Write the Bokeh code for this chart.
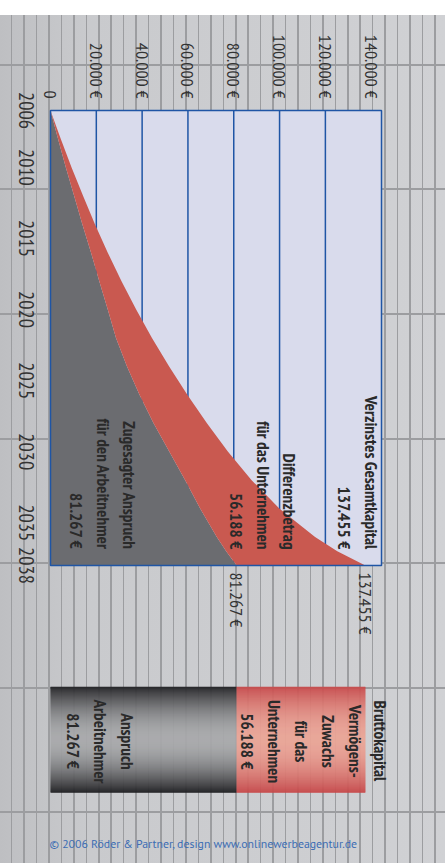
import math
import subprocess
from bokeh.plotting import figure
from bokeh.models import Range1d, FixedTicker, ColumnDataSource, BoxAnnotation, LinearAxis
from bokeh.layouts import column
from bokeh.core.properties import value
from bokeh.embed import file_html
from bokeh.resources import INLINE

# ---------------- data ----------------
years = [2006, 2008, 2010, 2012, 2014, 2016, 2018, 2020, 2022, 2024,
         2026, 2028, 2030, 2032, 2034, 2036, 2037, 2038]
total_capital = [0, 4500, 9200, 14200, 19400, 25000, 31000, 37400, 44300, 51800,
                 59800, 68300, 77500, 87800, 100000, 115500, 125200, 137455]
employee_claim = [0, 3300, 6700, 10300, 13900, 17700, 21300, 25000, 28600, 33400,
                  38900, 45000, 51900, 58800, 65400, 72600, 76700, 81267]
value_ticks = [0, 20000, 40000, 60000, 80000, 100000, 120000, 140000]
year_ticks = [2006, 2010, 2015, 2020, 2025, 2030, 2035, 2038]


def eur(v):
    return f"{v:,}".replace(",", ".") + " €"


total_end = total_capital[-1]
employee_end = employee_claim[-1]
company_gain = total_end - employee_end

# ---------------- fonts ----------------
def families():
    try:
        out = subprocess.run(["fc-list", ":", "family"], capture_output=True,
                             text=True, timeout=30).stdout
    except Exception:
        return set()
    fams = set()
    for line in out.splitlines():
        for f in line.split(","):
            fams.add(f.strip())
    return fams


FAMS = families()
PRESETS = [
    ("PT Sans Narrow", dict(year="20.5px", tick="18px", bold="17.2px")),
    ("Fira Sans Condensed", dict(year="18px", tick="16px", bold="15px")),
    ("Roboto Condensed", dict(year="18.5px", tick="16.5px", bold="15px")),
    ("Liberation Sans Narrow", dict(year="20px", tick="18px", bold="15px")),
    ("DejaVu Sans Condensed", dict(year="16px", tick="14px", bold="12px")),
]
NARROW, SIZES = "DejaVu Sans", dict(year="15px", tick="13px", bold="11.5px")
for fam, sz in PRESETS:
    if fam in FAMS:
        NARROW, SIZES = fam, sz
        break
COPY_FONT = "PT Sans" if "PT Sans" in FAMS else "Open Sans"

# ---------------- geometry helpers ----------------
BLUE = "#1f55a5"
TXT = "#2a2a2a"
PLOT_MAX = 144500          # value at the right edge of the plot area
PLOT_PX = 331              # plot area width in pixels
Y0, Y1 = years[0], years[-1]
PLOT_TOP, PLOT_BOTTOM = 110, 565   # page pixel rows of the plot area
FRAME_TOP, FRAME_BOTTOM = 90, 590  # page pixel rows of the drawing frame


def at_px(px):
    """value drawn px pixels from the left page edge (plot area starts at 50)"""
    return (px - 50) * PLOT_MAX / PLOT_PX


def year_at_px(py):
    return Y0 + (py - PLOT_TOP) * (Y1 - Y0) / (PLOT_BOTTOM - PLOT_TOP)


x_range = Range1d(at_px(0), at_px(445))
y_range = Range1d(year_at_px(FRAME_BOTTOM), year_at_px(FRAME_TOP))

p = figure(width=445, height=650, x_range=x_range, y_range=y_range,
           x_axis_location="above", y_axis_location=None,
           output_backend="svg", toolbar_location=None,
           min_border_left=0, min_border_right=0,
           min_border_top=FRAME_TOP, min_border_bottom=650 - FRAME_BOTTOM,
           background_fill_color=None, border_fill_color=None, outline_line_color=None)
p.grid.visible = False

# plot area background
p.add_layout(BoxAnnotation(left=0, right=PLOT_MAX, top=Y0, bottom=Y1,
                           fill_color="#d9dbec", fill_alpha=1, line_color=None, level="underlay"))


def style_axis(ax, size, standoff):
    ax.axis_line_color = None
    ax.major_tick_line_color = None
    ax.minor_tick_line_color = None
    ax.major_tick_out = 0
    ax.major_tick_in = 0
    ax.major_label_standoff = standoff
    ax.major_label_orientation = -math.pi / 2
    ax.major_label_text_font = NARROW
    ax.major_label_text_font_size = size
    ax.major_label_text_color = "#333333"


xa = p.xaxis[0]
xa.ticker = FixedTicker(ticks=value_ticks)
xa.major_label_overrides = {t: ("0" if t == 0 else eur(t)) for t in value_ticks}
style_axis(xa, SIZES["tick"], -(PLOT_TOP - FRAME_TOP) + 12)

ba = LinearAxis(ticker=FixedTicker(ticks=[employee_end, total_end]),
                major_label_overrides={employee_end: eur(employee_end), total_end: eur(total_end)})
style_axis(ba, SIZES["tick"], -(FRAME_BOTTOM - PLOT_BOTTOM) + 7)
p.add_layout(ba, "below")

# vertical grid lines inside the plot area
grid_ticks = value_ticks[1:-1]
p.segment(x0=grid_ticks, x1=grid_ticks, y0=[Y0] * len(grid_ticks), y1=[Y1] * len(grid_ticks),
          line_color=BLUE, line_width=1.5)

src = ColumnDataSource(dict(year=years, zero=[0] * len(years),
                            employee=employee_claim, total=total_capital))
p.harea(y="year", x1="zero", x2="employee", source=src, fill_color="#6b6c70")
p.harea(y="year", x1="employee", x2="total", source=src, fill_color="#c95950")

# plot area outline on top of areas
p.add_layout(BoxAnnotation(left=0, right=PLOT_MAX, top=Y0, bottom=Y1,
                           fill_color=None, line_color=BLUE, line_width=1.5, line_alpha=1,
                           level="annotation"))

# year labels (read top-to-bottom, left of plot)
p.text(x=[at_px(25.5)] * len(year_ticks), y=year_ticks, text=[str(y) for y in year_ticks],
       angle=-math.pi / 2, text_align="center", text_baseline="middle",
       text_font=value(NARROW), text_font_size=SIZES["year"], text_color="#333333")

# in-plot labels
label_year = year_at_px(549)
p.text(x=[at_px(357.5), at_px(262.5), at_px(102.5)], y=[label_year] * 3,
       text=["Verzinstes Gesamtkapital\n" + eur(total_end),
             "Differenzbetrag\nfür das Unternehmen\n" + eur(company_gain),
             "Zugesagter Anspruch\nfür den Arbeitnehmer\n" + eur(employee_end)],
       angle=-math.pi / 2, text_align="right", text_baseline="middle",
       text_font=value(NARROW), text_font_style="bold", text_font_size=SIZES["bold"],
       text_line_height=1.17, text_color=TXT)

# ---------------- bottom bar ----------------
p2 = figure(width=445, height=213, x_range=x_range, y_range=Range1d(177, 0),
            x_axis_location=None, y_axis_location=None,
            output_backend="svg", toolbar_location=None,
            min_border_left=0, min_border_right=0, min_border_top=36, min_border_bottom=0,
            background_fill_color=None, border_fill_color=None, outline_line_color=None)
p2.grid.visible = False

BAR_H = 106
N = 106


def mix(edge, mid, t):
    w = math.sin(math.pi * t) ** 0.9
    return "#%02x%02x%02x" % tuple(int(round(e + (m - e) * w)) for e, m in zip(edge, mid))


centers = [(i + 0.5) * BAR_H / N for i in range(N)]
gray_cols = [mix((28, 28, 31), (168, 169, 171), (i + 0.5) / N) for i in range(N)]
red_cols = [mix((198, 70, 72), (234, 164, 150), (i + 0.5) / N) for i in range(N)]
p2.hbar(y=centers, height=BAR_H / N * 1.3, left=[0] * N, right=[employee_end] * N,
        fill_color=gray_cols, line_color=None)
p2.hbar(y=centers, height=BAR_H / N * 1.3, left=[employee_end] * N, right=[total_end] * N,
        fill_color=red_cols, line_color=None)

p2.text(x=[at_px(100), at_px(301)], y=[55, 55],
        text=["Anspruch\nArbeitnehmer\n" + eur(employee_end),
              "Vermögens-\nZuwachs\nfür das\nUnternehmen\n" + eur(company_gain)],
        angle=-math.pi / 2, text_align="center", text_baseline="middle",
        text_font=value(NARROW), text_font_style="bold", text_font_size=SIZES["bold"],
        text_line_height=1.17, text_color=TXT)
p2.text(x=[at_px(380)], y=[14], text=["Bruttokapital"], angle=-math.pi / 2,
        text_align="left", text_baseline="middle",
        text_font=value(NARROW), text_font_style="bold", text_font_size=SIZES["bold"],
        text_color=TXT)
p2.text(x=[at_px(49)], y=[157], text=["© 2006 Röder & Partner, design www.onlinewerbeagentur.de"],
        text_align="left", text_baseline="middle",
        text_font=value(COPY_FONT), text_font_size="11.8px", text_color="#3c6db4")

bg = ("linear-gradient(to bottom, #ffffff 0px, #ffffff 15px, transparent 15px), "
      "repeating-linear-gradient(to bottom, transparent 0px, transparent 63.8px, #9c9da0 63.8px, "
      "#9c9da0 65.8px, transparent 65.8px, transparent 124.6px), "
      "repeating-linear-gradient(to right, transparent 0px, transparent 10.9px, #9c9da0 10.9px, "
      "#9c9da0 12.45px), "
      "linear-gradient(to right, #bebfc2, #c9cacd 20%, #d0d1d4)")

layout = column(p, p2, spacing=0, styles={"background": bg})

open("out.html", "w").write(file_html(layout, INLINE))
